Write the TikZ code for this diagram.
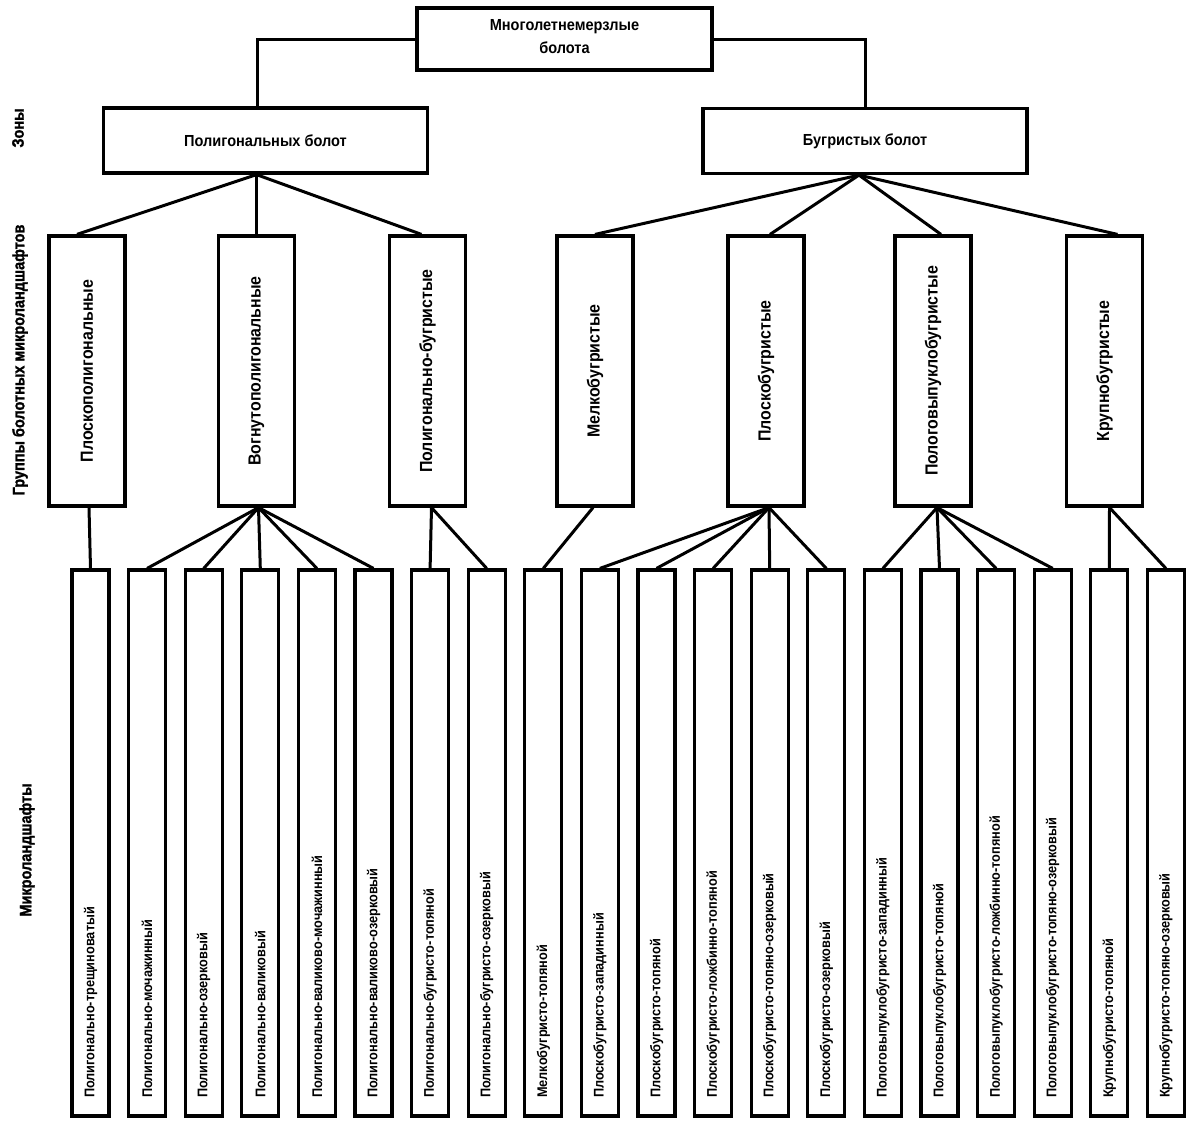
\documentclass[tikz,border=0pt]{standalone}
\usepackage{fontspec}
\setmainfont{Liberation Sans}[FakeStretch=0.91]
\newfontfamily\sidefont{Liberation Sans Bold}[FakeStretch=0.88, FakeBold=1.5]
\begin{document}
\begin{tikzpicture}[x=1pt,y=-1pt,
  box/.style={draw, line width=3.2pt, inner sep=0pt},
  topbox/.style={box, minimum width=295pt, minimum height=62pt, align=center, font=\bfseries\fontsize{16}{23}\selectfont},
  zonebox/.style={box, minimum width=324pt, minimum height=65pt, font=\bfseries\fontsize{16}{19}\selectfont},
  grpbox/.style={box, minimum width=76pt, minimum height=270pt, font=\bfseries\fontsize{17.5}{21}\selectfont},
  leafbox/.style={box, minimum width=37pt, minimum height=546pt},
  leaftext/.style={rotate=90, anchor=west, inner sep=0pt, font=\bfseries\fontsize{14}{16}\selectfont},
  sidelabel/.style={rotate=90, inner sep=0pt, font=\sidefont\fontsize{16.5}{19}\selectfont},
  link/.style={line width=3pt}]
\useasboundingbox (0,0) rectangle (1192,1122);

% side labels
\node[sidelabel] (lzones) at (18,128) {Зоны};
\node[sidelabel] (lgroups) at (20,360) {Группы болотных микроландшафтов};
\node[sidelabel] (lmicro) at (27,850) {Микроландшафты};

% root and zones
\node[topbox, text depth=6pt] (root) at (564.5,39) {Многолетнемерзлые\\болота};
\node[zonebox] (poly) at (265.5,140.5) {Полигональных болот};
\node[zonebox] (bug) at (865,141) {Бугристых болот};

% groups
\node[grpbox] (g1) at (87,371) {\rotatebox{90}{Плоскополигональные}};
\node[grpbox] (g2) at (256.5,371) {\rotatebox{90}{Вогнутополигональные}};
\node[grpbox] (g3) at (427.5,371) {\rotatebox{90}{Полигонально-бугристые}};
\node[grpbox] (g4) at (595,371) {\rotatebox{90}{Мелкобугристые}};
\node[grpbox] (g5) at (766,371) {\rotatebox{90}{Плоскобугристые}};
\node[grpbox] (g6) at (933,371) {\rotatebox{90}{Пологовыпуклобугристые}};
\node[grpbox] (g7) at (1104.5,371) {\rotatebox{90}{Крупнобугристые}};

% leaves
\foreach \i/\t in {
 1/Полигонально-трещиноватый,
 2/Полигонально-мочажинный,
 3/Полигонально-озерковый,
 4/Полигонально-валиковый,
 5/Полигонально-валиково-мочажинный,
 6/Полигонально-валиково-озерковый,
 7/Полигонально-бугристо-топяной,
 8/Полигонально-бугристо-озерковый,
 9/Мелкобугристо-топяной,
 10/Плоскобугристо-западинный,
 11/Плоскобугристо-топяной,
 12/Плоскобугристо-ложбинно-топяной,
 13/Плоскобугристо-топяно-озерковый,
 14/Плоскобугристо-озерковый,
 15/Пологовыпуклобугристо-западинный,
 16/Пологовыпуклобугристо-топяной,
 17/Пологовыпуклобугристо-ложбинно-топяной,
 18/Пологовыпуклобугристо-топяно-озерковый,
 19/Крупнобугристо-топяной,
 20/Крупнобугристо-топяно-озерковый}{
  \node[leafbox] (l\i) at ({90.5+(\i-1)*56.6},843) {};
  \node[leaftext] (t\i) at ({90.5+(\i-1)*56.6},1098) {\t};
}

% root to zones
\draw[link] (root.west) -| ([xshift=-8pt]poly.north);
\draw[link] (root.east) -| (bug.north);

% zones to groups
\coordinate (pa) at ([xshift=-9pt]poly.south);
\coordinate (ba) at ([xshift=-6pt]bug.south);
\draw[link] (pa) -- ([xshift=-10pt]g1.north);
\draw[link] (pa) -- (g2.north);
\draw[link] (pa) -- ([xshift=-6pt]g3.north);
\draw[link] (ba) -- (g4.north);
\draw[link] (ba) -- ([xshift=4pt]g5.north);
\draw[link] (ba) -- ([xshift=8pt]g6.north);
\draw[link] (ba) -- ([xshift=13pt]g7.north);

% groups to leaves
\draw[link] ([xshift=2pt]g1.south) -- (l1.north);
\foreach \i in {2,...,6} \draw[link] ([xshift=2pt]g2.south) -- (l\i.north);
\foreach \i in {7,8} \draw[link] ([xshift=4pt]g3.south) -- (l\i.north);
\draw[link] ([xshift=-2pt]g4.south) -- (l9.north);
\foreach \i in {10,...,14} \draw[link] ([xshift=3pt]g5.south) -- (l\i.north);
\foreach \i in {15,...,18} \draw[link] ([xshift=4pt]g6.south) -- (l\i.north);
\foreach \i in {19,20} \draw[link] ([xshift=5pt]g7.south) -- (l\i.north);
\end{tikzpicture}
\end{document}
